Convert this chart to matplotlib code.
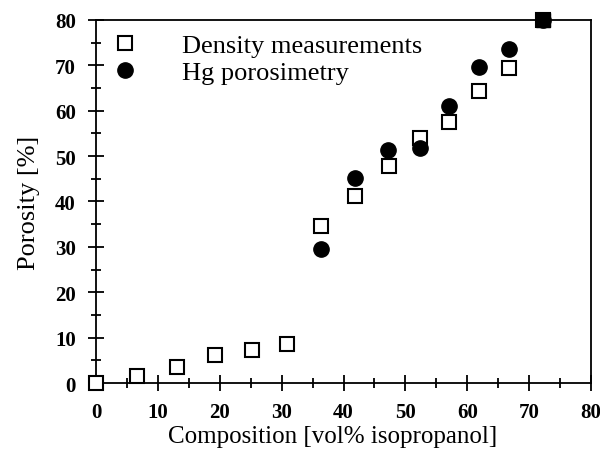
import matplotlib
matplotlib.use("Agg")
import matplotlib.pyplot as plt
from matplotlib.ticker import MultipleLocator

plt.rcParams['font.family'] = ['Liberation Serif', 'DejaVu Serif']

dens_x = [0, 6.6, 13.1, 19.3, 25.2, 30.9, 36.4, 41.9, 47.3, 52.4, 57.1, 61.9, 66.7, 72.2]
dens_y = [0, 1.6, 3.6, 6.3, 7.4, 8.7, 34.5, 41.3, 47.8, 53.9, 57.6, 64.4, 69.3, 79.9]
hg_x = [36.4, 41.9, 47.2, 52.4, 57.1, 61.9, 66.7, 72.2]
hg_y = [29.5, 45.1, 51.4, 51.7, 61.1, 69.5, 73.6, 79.9]

fig = plt.figure(figsize=(6, 4.52), dpi=100)
ax = fig.add_axes([0.16, 0.150, 0.825, 0.804])

ax.plot(dens_x, dens_y, linestyle='none', marker='s', markersize=10.5,
        markerfacecolor='white', markeredgecolor='black', markeredgewidth=1.5,
        clip_on=False, zorder=3, label='Density measurements')
ax.plot(hg_x, hg_y, linestyle='none', marker='o', markersize=11,
        markerfacecolor='black', markeredgecolor='black',
        clip_on=False, zorder=4, label='Hg porosimetry')
# last point: both coincide, drawn as a filled square
ax.plot(dens_x[-1:], dens_y[-1:], linestyle='none', marker='s', markersize=10.5,
        markerfacecolor='black', markeredgecolor='black', clip_on=False, zorder=5)

ax.set_xlim(0, 80)
ax.set_ylim(0, 80)
ax.xaxis.set_major_locator(MultipleLocator(10))
ax.xaxis.set_minor_locator(MultipleLocator(5))
ax.yaxis.set_major_locator(MultipleLocator(10))
ax.yaxis.set_minor_locator(MultipleLocator(5))
ax.tick_params(which='major', direction='inout', length=11, width=1.3, labelsize=15)
ax.tick_params(which='minor', direction='inout', length=6.5, width=1.3)
ax.tick_params(axis='x', which='major', pad=8)
ax.tick_params(axis='y', which='major', pad=9)
for lab in ax.get_xticklabels() + ax.get_yticklabels():
    lab.set_fontweight('bold')
for s in ax.spines.values():
    s.set_linewidth(1.3)

ax.set_xlabel('Composition [vol% isopropanol]', fontsize=18)
ax.xaxis.set_label_coords(0.479, -0.114)
ax.set_ylabel('Porosity [%]', fontsize=19, labelpad=11)

ax.legend(loc='upper left', bbox_to_anchor=(0, 1 - 3 / 363), frameon=False,
          fontsize=19, handletextpad=1.45, borderaxespad=0.2, borderpad=0.2,
          labelspacing=0.15, handlelength=1.4)

fig.savefig('out.png', dpi=100)
